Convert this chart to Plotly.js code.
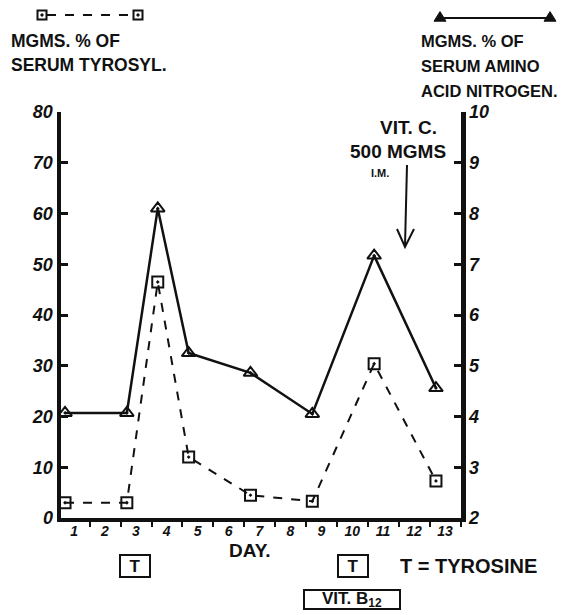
<!DOCTYPE html>
<html>
<head>
<meta charset="utf-8">
<script src="https://cdn.plot.ly/plotly-3.0.1.min.js"></script>
<style>html,body{margin:0;padding:0;background:#fff;}#chart{width:572px;height:615px;}</style>
</head>
<body>
<div id="chart"></div>
<script>
// ---- data ----
const days = [1, 3, 4, 5, 7, 9, 11, 13];
const tyrosyl = [3.0, 3.0, 46.5, 12.0, 4.5, 3.3, 30.4, 7.3];          // mg % serum tyrosyl (left axis)
const aminoN = [4.07, 4.07, 8.1, 5.25, 4.86, 4.05, 7.17, 4.56];       // mg % serum amino acid nitrogen (right axis)
const dayTicks = [1,2,3,4,5,6,7,8,9,10,11,12,13];
const leftTicks = [0,10,20,30,40,50,60,70,80];
const rightTicks = [2,3,4,5,6,7,8,9,10];

// ---- geometry helpers (pixel -> paper) ----
const L = 61, R = 461, T = 112, B = 518;
const W = 572, H = 615;
const px = x => (x - L) / (R - L);
const py = y => (B - y) / (B - T);

const FONT = "Liberation Sans, Arial, sans-serif";
const ink = "#111";

const traceTyr = {
  x: days, y: tyrosyl, type: "scatter", mode: "lines+markers",
  line: {color: ink, width: 2, dash: "dash"},
  marker: {symbol: "square-open-dot", size: 11, color: ink, line: {color: ink, width: 2}},
  yaxis: "y", showlegend: false, cliponaxis: false
};
const traceAmino = {
  x: days, y: aminoN, type: "scatter", mode: "lines+markers",
  line: {color: ink, width: 2.5},
  marker: {symbol: "triangle-up-open-dot", size: 12, color: ink, line: {color: ink, width: 2}},
  yaxis: "y2", showlegend: false, cliponaxis: false
};

const minorX = dayTicks.map(d => d + 0.8);

function txt(text, x, y, size, xanchor, extra) {
  return Object.assign({
    text: text, xref: "paper", yref: "paper", x: px(x), y: py(y),
    xanchor: xanchor || "left", yanchor: "middle", showarrow: false,
    font: {family: FONT, size: size, color: ink, weight: "bold"}
  }, extra || {});
}
function boxed(text, x, y, w, h, size) {
  return txt(text, x, y, size, "center",
    {bordercolor: ink, borderwidth: 2, borderpad: 1, width: w, height: h});
}

const annotations = [
  txt("MGMS. % OF", 9, 41, 17.5),
  txt("SERUM TYROSYL.", 9, 65, 17.5),
  txt("MGMS. % OF", 419, 41, 16.5),
  txt("SERUM AMINO", 419, 66, 16.5),
  txt("ACID NITROGEN.", 419, 91, 16.5),
  txt("VIT. C.", 408, 128, 19, "center"),
  txt("500 MGMS", 398, 151, 19, "center"),
  txt("I.M.", 380, 173, 11, "center"),
  txt("DAY.", 250, 550, 19, "center"),
  boxed("T", 135, 566, 26, 18, 17),
  boxed("T", 353, 566, 26, 18, 17),
  txt("T = TYROSINE", 398, 566, 20, "left"),
  boxed("VIT. B<sub>12</sub>", 352, 599, 92, 15, 17)
];

function tri(cx, cy, s) {
  return {type: "path", xref: "paper", yref: "paper",
    path: `M${px(cx - s)},${py(cy + s * 0.7)} L${px(cx + s)},${py(cy + s * 0.7)} L${px(cx)},${py(cy - s * 0.9)} Z`,
    fillcolor: ink, line: {color: ink, width: 1}};
}
function sq(cx, cy, s) {
  return [
    {type: "rect", xref: "paper", yref: "paper", x0: px(cx - s), x1: px(cx + s), y0: py(cy + s), y1: py(cy - s),
     line: {color: ink, width: 2}, fillcolor: "white"},
    {type: "circle", xref: "paper", yref: "paper", x0: px(cx - 1.2), x1: px(cx + 1.2), y0: py(cy + 1.2), y1: py(cy - 1.2),
     line: {color: ink, width: 1}, fillcolor: ink}
  ];
}

const shapes = [
  {type: "line", xref: "paper", yref: "paper", x0: px(47), x1: px(133), y0: py(15), y1: py(15),
   line: {color: ink, width: 2, dash: "dash"}},
  ...sq(42, 15, 4.5), ...sq(138, 15, 4.5),
  {type: "line", xref: "paper", yref: "paper", x0: px(440), x1: px(550), y0: py(18), y1: py(18),
   line: {color: ink, width: 2}},
  tri(440, 17, 6), tri(550, 17, 6),
  // Vit C arrow
  {type: "line", xref: "paper", yref: "paper", x0: px(407), x1: px(405), y0: py(165), y1: py(246),
   line: {color: ink, width: 2}},
  {type: "path", xref: "paper", yref: "paper",
   path: `M${px(397)},${py(229)} L${px(405)},${py(247)} L${px(414)},${py(229)}`,
   line: {color: ink, width: 2}}
];

const layout = {
  width: W, height: H,
  margin: {l: L, r: W - R, t: T, b: H - B},
  paper_bgcolor: "white", plot_bgcolor: "white",
  font: {family: FONT, color: ink},
  showlegend: false,
  xaxis: {
    range: [0.87, 13.81], tickvals: dayTicks, ticktext: dayTicks.map(String),
    ticks: "", ticklabelshift: 9, ticklabelstandoff: -3, showgrid: false, zeroline: false,
    showline: true, linewidth: 4, linecolor: ink,
    tickfont: {family: FONT, size: 14, color: ink, weight: "bold", style: "italic"},
    minor: {tickvals: minorX, ticks: "outside", ticklen: 5, tickwidth: 2, tickcolor: ink, showgrid: false}
  },
  yaxis: {
    range: [0, 80], tickvals: leftTicks, ticks: "inside", ticklen: 7, tickwidth: 3, tickcolor: ink,
    showgrid: false, zeroline: false, showline: true, linewidth: 4.5, linecolor: ink,
    tickfont: {family: FONT, size: 18, color: ink, weight: "bold", style: "italic"}
  },
  yaxis2: {
    range: [2, 10], tickvals: rightTicks, overlaying: "y", side: "right",
    ticks: "inside", ticklen: 7, tickwidth: 3, tickcolor: ink,
    showgrid: false, zeroline: false, showline: true, linewidth: 4.5, linecolor: ink,
    tickfont: {family: FONT, size: 18, color: ink, weight: "bold", style: "italic"}
  },
  annotations: annotations,
  shapes: shapes
};

Plotly.newPlot("chart", [traceTyr, traceAmino], layout, {displayModeBar: false, staticPlot: true});
</script>
</body>
</html>
